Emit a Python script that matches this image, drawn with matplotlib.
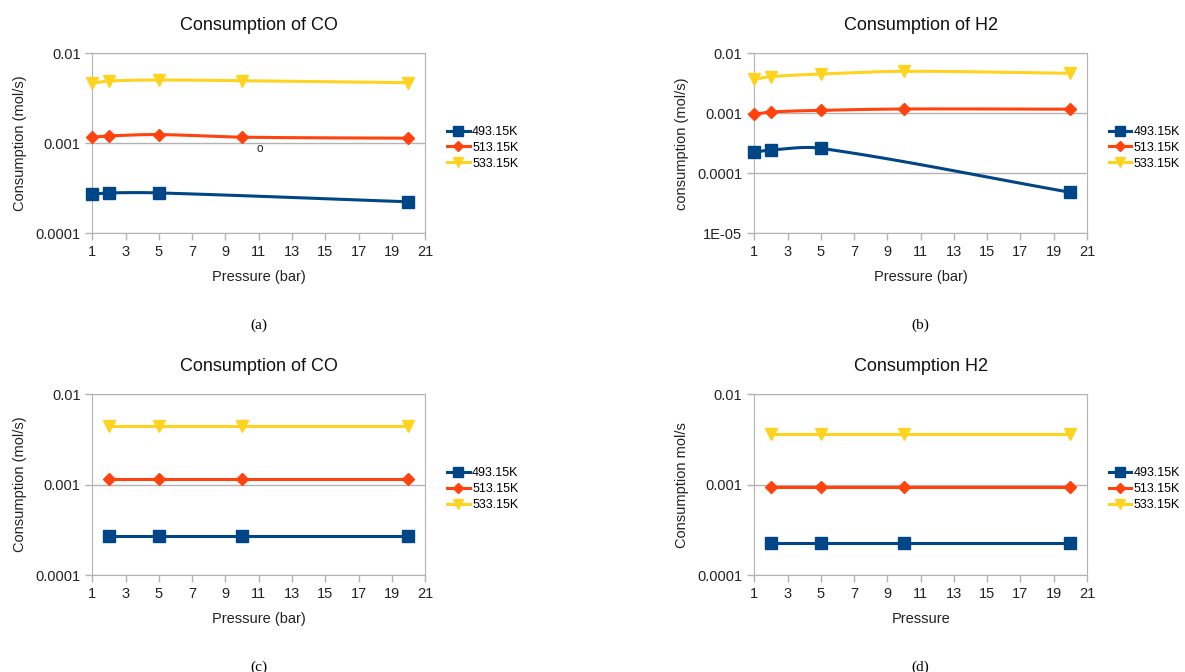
import numpy as np
import matplotlib.pyplot as plt
from matplotlib.lines import Line2D
from matplotlib.ticker import FixedLocator, FixedFormatter, NullLocator

plt.rcParams['font.family'] = ['Liberation Sans', 'DejaVu Sans']

# Series labels and styles
labels = ['493.15K', '513.15K', '533.15K']
colors = ['#004586', '#ff420e', '#ffd320']
markers = ['s', 'D', 'v']
msizes = [8, 6, 8]

# (a) Consumption of CO
a_p_493 = [1, 2, 5, 20]
a_493 = [0.000271, 0.000281, 0.000281, 0.000224]
a_p = [1, 2, 5, 10, 20]
a_513 = [0.00117, 0.00121, 0.00125, 0.00117, 0.00114]
a_533 = [0.00464, 0.00492, 0.00505, 0.00496, 0.00471]

# (b) Consumption of H2
b_p_493 = [1, 2, 5, 20]
b_493 = [0.000224, 0.000245, 0.000261, 0.0000482]
b_p = [1, 2, 5, 10, 20]
b_513 = [0.00096, 0.00105, 0.00112, 0.00118, 0.00117]
b_533 = [0.00369, 0.00408, 0.00452, 0.00501, 0.00464]

# (c) Consumption of CO, (d) Consumption H2
cd_p = [2, 5, 10, 20]
c_493 = [0.000272] * 4
c_513 = [0.00115] * 4
c_533 = [0.00446] * 4
d_493 = [0.000224] * 4
d_513 = [0.00095] * 4
d_533 = [0.0036] * 4


def smooth_line(x, y, px_per_x, px_per_dec, n=40):
    # Catmull-Rom style Hermite curve in screen-like space, only for drawing the line
    P = np.column_stack([np.asarray(x, float) * px_per_x,
                         np.log10(np.asarray(y, float)) * px_per_dec])
    t = np.concatenate([[0], np.cumsum(np.hypot(*np.diff(P, axis=0).T))])
    k = len(P)
    M = np.zeros_like(P)
    M[0] = (P[1] - P[0]) / (t[1] - t[0])
    M[-1] = (P[-1] - P[-2]) / (t[-1] - t[-2])
    for i in range(1, k - 1):
        M[i] = (P[i + 1] - P[i - 1]) / (t[i + 1] - t[i - 1])
    out = []
    for i in range(k - 1):
        h = t[i + 1] - t[i]
        s = np.linspace(0, 1, n)[:, None]
        h00 = 2 * s ** 3 - 3 * s ** 2 + 1
        h10 = s ** 3 - 2 * s ** 2 + s
        h01 = -2 * s ** 3 + 3 * s ** 2
        h11 = s ** 3 - s ** 2
        out.append(h00 * P[i] + h10 * h * M[i] + h01 * P[i + 1] + h11 * h * M[i + 1])
    C = np.vstack(out)
    return C[:, 0] / px_per_x, 10 ** (C[:, 1] / px_per_dec)


def draw_panel(rect, title, ylabel, xlabel, series, ylim, yticks, yticklabels, smooth, caption):
    ax = fig.add_axes(rect)
    ndec = np.log10(ylim[1] / ylim[0])
    for i, (xs, ys) in enumerate(series):
        if smooth:
            lx, ly = smooth_line(xs, ys, 332.0 / 20, 180.0 / ndec)
        else:
            lx, ly = xs, ys
        ax.plot(lx, ly, color=colors[i], lw=2.2, zorder=3, clip_on=False)
        ax.plot(xs, ys, linestyle='none', marker=markers[i], ms=msizes[i],
                color=colors[i], zorder=4, clip_on=False)
    ax.set_yscale('log')
    ax.set_xlim(1, 21)
    ax.set_ylim(*ylim)
    ax.set_xticks(range(1, 22, 2))
    ax.yaxis.set_major_locator(FixedLocator(yticks))
    ax.yaxis.set_major_formatter(FixedFormatter(yticklabels))
    ax.yaxis.set_minor_locator(NullLocator())
    ax.grid(axis='y', color='#b3b3b3', lw=1)
    ax.set_axisbelow(True)
    for s in ax.spines.values():
        s.set_color('#b3b3b3')
    ax.tick_params(axis='both', colors='#b3b3b3', labelcolor='#222222',
                   labelsize=10.5, length=5, width=1)
    ax.set_title(title, fontsize=13, color='#111111', pad=17)
    ax.set_xlabel(xlabel, fontsize=10.5, color='#222222', labelpad=8)
    ax.set_ylabel(ylabel, fontsize=10.5, color='#222222', labelpad=6)
    handles = [Line2D([], [], color=colors[i], lw=2.2, marker=markers[i],
                      ms=msizes[i] - 1) for i in range(3)]
    ax.legend(handles, labels, loc='center left', bbox_to_anchor=(1.066, 0.475),
              frameon=False, fontsize=9, handlelength=1.8, handletextpad=0.2,
              labelspacing=0.3, borderpad=0, borderaxespad=0)
    pos = ax.get_position()
    fig.text((pos.x0 + pos.x1) / 2, pos.y0 - 0.137, caption,
             family=['Liberation Serif', 'DejaVu Serif'], fontsize=11,
             ha='center', va='center')
    return ax


fig = plt.figure(figsize=(11.85, 6.72), dpi=100)

ax_a = draw_panel([0.0779, 0.6528, 0.2808, 0.2679], 'Consumption of CO',
                  'Consumption (mol/s)', 'Pressure (bar)',
                  [(a_p_493, a_493), (a_p, a_513), (a_p, a_533)],
                  (0.0001, 0.01), [0.0001, 0.001, 0.01], ['0.0001', '0.001', '0.01'],
                  True, '(a)')
ax_a.text(0.503, 0.468, 'o', transform=ax_a.transAxes, fontsize=8.5,
          ha='center', va='center', color='#222222')

draw_panel([0.6365, 0.6528, 0.2808, 0.2679], 'Consumption of H2',
           'consumption (mol/s)', 'Pressure (bar)',
           [(b_p_493, b_493), (b_p, b_513), (b_p, b_533)],
           (0.00001, 0.01), [0.00001, 0.0001, 0.001, 0.01],
           ['1E-05', '0.0001', '0.001', '0.01'], True, '(b)')

draw_panel([0.0779, 0.1443, 0.2808, 0.2689], 'Consumption of CO',
           'Consumption (mol/s)', 'Pressure (bar)',
           [(cd_p, c_493), (cd_p, c_513), (cd_p, c_533)],
           (0.0001, 0.01), [0.0001, 0.001, 0.01], ['0.0001', '0.001', '0.01'],
           False, '(c)')

draw_panel([0.6365, 0.1443, 0.2808, 0.2689], 'Consumption H2',
           'Consumption mol/s', 'Pressure',
           [(cd_p, d_493), (cd_p, d_513), (cd_p, d_533)],
           (0.0001, 0.01), [0.0001, 0.001, 0.01], ['0.0001', '0.001', '0.01'],
           False, '(d)')

fig.savefig('out.png', dpi=100)
